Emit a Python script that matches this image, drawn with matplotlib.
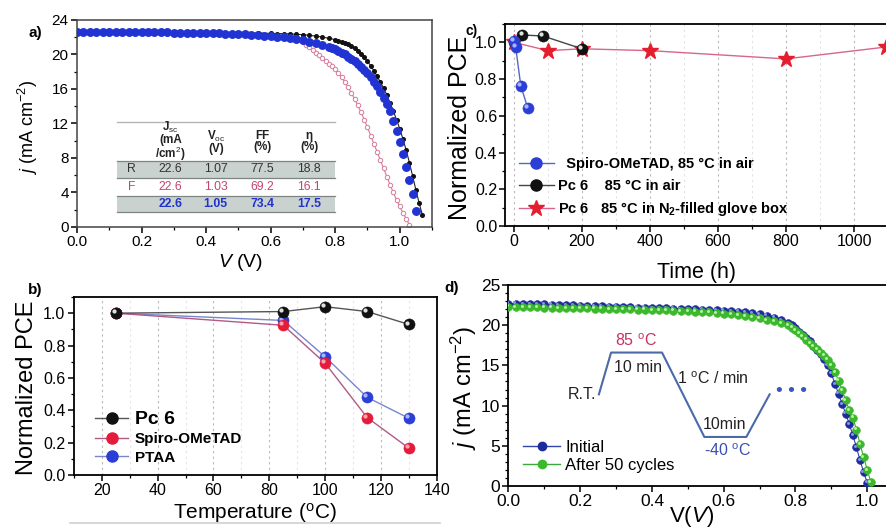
import matplotlib
matplotlib.use('Agg')
import matplotlib.pyplot as plt
from matplotlib.transforms import offset_copy
from matplotlib.ticker import MultipleLocator, FormatStrFormatter
from matplotlib.lines import Line2D
from matplotlib.patches import Rectangle

plt.rcParams['font.family'] = 'Liberation Sans'
plt.rcParams['mathtext.fontset'] = 'custom'
plt.rcParams['mathtext.rm'] = 'Liberation Sans'
plt.rcParams['mathtext.it'] = 'Liberation Sans:italic'
plt.rcParams['mathtext.bf'] = 'Liberation Sans:bold'

# ---- panel a: J-V curves (R, F, average) ----
v_r = [0.00, 0.04, 0.08, 0.12, 0.16, 0.20, 0.24, 0.28, 0.32, 0.36, 0.40, 0.44, 0.48, 0.52, 0.56,
       0.60, 0.62, 0.64, 0.66, 0.68, 0.70, 0.72, 0.74, 0.76, 0.78,
       0.80, 0.81, 0.82, 0.83, 0.84, 0.85, 0.86, 0.87, 0.88, 0.89, 0.90, 0.91, 0.92, 0.93, 0.94,
       0.95, 0.96, 0.97, 0.98, 0.99, 1.00, 1.01, 1.02, 1.03, 1.04, 1.05, 1.06, 1.07]
j_r = [22.65, 22.65, 22.64, 22.63, 22.62, 22.61, 22.60, 22.59, 22.58, 22.56, 22.55, 22.53, 22.52, 22.50, 22.48,
       22.45, 22.43, 22.41, 22.38, 22.34, 22.29, 22.22, 22.13, 22.02, 21.88,
       21.72, 21.62, 21.50, 21.36, 21.20, 21.00, 20.75, 20.45, 20.10, 19.70, 19.20, 18.70, 18.10, 17.45, 16.80,
       16.10, 15.30, 14.40, 13.45, 12.45, 11.40, 10.20, 8.90, 7.45, 5.90, 4.30, 2.80, 1.40]

v_f = [0.00, 0.04, 0.08, 0.12, 0.16, 0.20, 0.24, 0.28, 0.32, 0.36, 0.40, 0.44, 0.48, 0.52, 0.56,
       0.60, 0.62, 0.64, 0.66, 0.68,
       0.70, 0.71, 0.72, 0.73, 0.74, 0.75, 0.76, 0.77, 0.78, 0.79, 0.80, 0.81, 0.82, 0.83, 0.84,
       0.85, 0.86, 0.87, 0.88, 0.89, 0.90, 0.91, 0.92, 0.93, 0.94, 0.95, 0.96, 0.97, 0.98, 0.99,
       1.00, 1.01, 1.02, 1.03]
j_f = [22.65, 22.64, 22.63, 22.62, 22.60, 22.58, 22.56, 22.54, 22.52, 22.49, 22.46, 22.42, 22.38, 22.33, 22.27,
       22.20, 22.10, 21.98, 21.84, 21.68,
       21.40, 21.15, 20.85, 20.55, 20.20, 19.90, 19.60, 19.30, 18.95, 18.65, 18.30, 17.85, 17.35, 16.80, 16.20,
       15.55, 14.85, 14.10, 13.30, 12.45, 11.55, 10.60, 9.65, 8.70, 7.75, 6.80, 5.85, 4.90, 4.00, 3.15,
       2.40, 1.65, 0.95, 0.25]

v_avg = [0.00, 0.02, 0.04, 0.06, 0.08, 0.10, 0.12, 0.14, 0.16, 0.18, 0.20, 0.22, 0.24, 0.26, 0.28,
         0.30, 0.32, 0.34, 0.36, 0.38, 0.40, 0.42, 0.44, 0.46, 0.48, 0.50, 0.52, 0.54, 0.56, 0.58,
         0.60, 0.62, 0.64, 0.66, 0.68, 0.70, 0.72, 0.74, 0.76, 0.78,
         0.79, 0.80, 0.81, 0.82, 0.83, 0.84, 0.85, 0.86, 0.87, 0.88, 0.89, 0.90, 0.91, 0.92, 0.93,
         0.94, 0.95, 0.96, 0.97, 0.98, 0.99, 1.00, 1.01, 1.02, 1.03, 1.04, 1.05]
j_avg = [22.65, 22.65, 22.64, 22.64, 22.63, 22.63, 22.62, 22.62, 22.61, 22.60, 22.60, 22.59, 22.58, 22.57, 22.56,
         22.55, 22.54, 22.53, 22.52, 22.50, 22.48, 22.46, 22.44, 22.42, 22.39, 22.36, 22.33, 22.29, 22.25, 22.20,
         22.14, 22.07, 21.99, 21.90, 21.79, 21.66, 21.50, 21.32, 21.12, 20.90,
         20.75, 20.60, 20.40, 20.20, 20.00, 19.75, 19.50, 19.20, 18.90, 18.55, 18.20, 17.80, 17.35, 16.85, 16.30,
         15.70, 15.00, 14.25, 13.40, 12.30, 11.10, 9.80, 8.45, 7.00, 5.50, 3.80, 1.90]

tbl_rows = ['R', 'F', '']
tbl_jsc = ['22.6', '22.6', '22.6']
tbl_voc = ['1.07', '1.03', '1.05']
tbl_ff = ['77.5', '69.2', '73.4']
tbl_eta = ['18.8', '16.1', '17.5']

# ---- panel b: normalized PCE vs temperature ----
temp = [25, 85, 100, 115, 130]
pce_pc6_t = [1.00, 1.01, 1.04, 1.01, 0.93]
pce_spiro_t = [1.00, 0.925, 0.69, 0.355, 0.165]
pce_ptaa_t = [1.00, 0.955, 0.73, 0.48, 0.35]

# ---- panel c: normalized PCE vs time ----
t_spiro = [0, 5, 20, 40]
pce_spiro_h = [1.01, 0.975, 0.765, 0.645]
t_pc6_air = [0, 25, 85, 200]
pce_pc6_air = [1.00, 1.04, 1.035, 0.965]
t_pc6_n2 = [0, 100, 200, 400, 800, 1095]
pce_pc6_n2 = [1.00, 0.955, 0.965, 0.955, 0.91, 0.975]

# ---- panel d: J-V before / after thermal cycling ----
v_init = [0.00, 0.02, 0.04, 0.06, 0.08, 0.10, 0.12, 0.14, 0.16, 0.18, 0.20, 0.22, 0.24, 0.26, 0.28,
          0.30, 0.32, 0.34, 0.36, 0.38, 0.40, 0.42, 0.44, 0.46, 0.48, 0.50, 0.52, 0.54, 0.56, 0.58,
          0.60, 0.62, 0.64, 0.66, 0.68, 0.70, 0.72, 0.74, 0.76, 0.78,
          0.79, 0.80, 0.81, 0.82, 0.83, 0.84, 0.85, 0.86, 0.87, 0.88, 0.89, 0.90, 0.91, 0.92, 0.93,
          0.94, 0.95, 0.96, 0.97, 0.98, 0.99, 1.00]
j_init = [22.70, 22.68, 22.65, 22.63, 22.60, 22.58, 22.55, 22.52, 22.50, 22.47, 22.44, 22.41, 22.38, 22.35, 22.32,
          22.29, 22.26, 22.23, 22.20, 22.17, 22.14, 22.11, 22.08, 22.05, 22.02, 21.99, 21.96, 21.93, 21.89, 21.85,
          21.80, 21.74, 21.67, 21.59, 21.50, 21.38, 21.20, 20.95, 20.65, 20.25,
          20.00, 19.60, 19.20, 18.80, 18.40, 18.00, 17.40, 16.90, 16.40, 15.80, 15.00, 14.00, 12.70, 11.50, 10.20,
          9.00, 7.70, 6.30, 4.80, 3.20, 1.70, 0.40]

v_cyc = [0.00, 0.02, 0.04, 0.06, 0.08, 0.10, 0.12, 0.14, 0.16, 0.18, 0.20, 0.22, 0.24, 0.26, 0.28,
         0.30, 0.32, 0.34, 0.36, 0.38, 0.40, 0.42, 0.44, 0.46, 0.48, 0.50, 0.52, 0.54, 0.56, 0.58,
         0.60, 0.62, 0.64, 0.66, 0.68, 0.70, 0.72, 0.74, 0.76, 0.78,
         0.79, 0.80, 0.81, 0.82, 0.83, 0.84, 0.85, 0.86, 0.87, 0.88, 0.89, 0.90, 0.91, 0.92, 0.93,
         0.94, 0.95, 0.96, 0.97, 0.98, 0.99, 1.00, 1.01]
j_cyc = [22.30, 22.28, 22.26, 22.24, 22.22, 22.20, 22.18, 22.16, 22.14, 22.12, 22.10, 22.08, 22.06, 22.04, 22.02,
         22.00, 21.98, 21.96, 21.94, 21.92, 21.90, 21.87, 21.84, 21.81, 21.78, 21.74, 21.70, 21.65, 21.60, 21.52,
         21.44, 21.35, 21.25, 21.13, 21.00, 20.85, 20.67, 20.47, 20.25, 19.99,
         19.70, 19.35, 19.00, 18.60, 18.20, 17.80, 17.40, 17.00, 16.60, 16.20, 15.70, 15.00, 14.20, 13.10, 11.90,
         10.70, 9.40, 8.50, 7.00, 5.20, 3.60, 2.00, 0.50]

# temperature-cycle sketch drawn inside panel d (V, j units)
cycle_v = [0.252, 0.286, 0.428, 0.546, 0.663, 0.728]
cycle_j = [11.4, 16.6, 16.6, 6.1, 6.1, 11.4]


def spheres(ax, x, y, col, hi, ms, z=3):
    ax.plot(x, y, 'o', ms=ms, mfc=col, mec=col, mew=0.4, ls='none', zorder=z)
    tr = offset_copy(ax.transData, fig=ax.figure, x=-0.17 * ms, y=0.17 * ms, units='points')
    ax.plot(x, y, 'o', ms=ms * 0.38, mfc=hi, mec='none', ls='none', zorder=z + 0.01, transform=tr)


def style(ax, fs, width=1.2):
    for s in ax.spines.values():
        s.set_linewidth(width)
    ax.tick_params(which='major', direction='out', length=4, width=1.1, labelsize=fs, pad=2)
    ax.tick_params(which='minor', direction='out', length=2.5, width=0.9)


fig = plt.figure(figsize=(8.86, 5.29), dpi=100)

# ================= panel a =================
ax_a = fig.add_axes([0.0869, 0.5709, 0.4007, 0.3913])
ax_a.plot(v_f, j_f, '-o', color='#d77a9e', lw=0.8, ms=3.2, mfc='white', mec='#d77a9e', mew=0.7, zorder=2)
ax_a.plot(v_r, j_r, '-o', color='#222222', lw=0.8, ms=2.6, mfc='#111111', mec='#111111', zorder=3)
ax_a.plot(v_avg, j_avg, 'o', color='#2233d4', ms=5.4, mec='#2233d4', zorder=4)
ax_a.set_xlim(0, 1.1)
ax_a.set_ylim(0, 24)
ax_a.xaxis.set_major_locator(MultipleLocator(0.2))
ax_a.xaxis.set_minor_locator(MultipleLocator(0.1))
ax_a.yaxis.set_major_locator(MultipleLocator(4))
ax_a.yaxis.set_minor_locator(MultipleLocator(2))
ax_a.xaxis.set_major_formatter(FormatStrFormatter('%.1f'))
for s in ax_a.spines.values():
    s.set_color('#444444')
style(ax_a, 11, 1.1)

# inset table
x0, x1 = 0.124, 0.80
col_x = [0.17, 0.29, 0.43, 0.575, 0.72]
row_y = [6.7, 4.65, 2.7]
row_col = ['#333333', '#c0466e', '#2233cc']
ax_a.plot([x0, x1], [12.2, 12.2], color='#b5b5b5', lw=1.0, zorder=5)
for yb, h in [(5.7, 2.0), (1.75, 1.9)]:
    ax_a.add_patch(Rectangle((x0, yb), x1 - x0, h, facecolor='#c9d2cf', edgecolor='none', zorder=5))
for yl in [7.7, 5.7, 3.65, 1.75]:
    ax_a.plot([x0, x1], [yl, yl], color='#7d8582', lw=0.9, zorder=5)
hdrs = ['J$_{\\mathrm{sc}}$\n(mA\n/cm$^2$)', 'V$_{\\mathrm{oc}}$\n(V)', 'FF\n(%)', '\u03b7\n(%)']
for cx, h in zip(col_x[1:], hdrs):
    ax_a.text(cx, 9.9, h, ha='center', va='center', fontsize=8.4, fontweight='bold', color='#222222',
              linespacing=0.9, zorder=6)
for i in range(3):
    vals = [tbl_rows[i], tbl_jsc[i], tbl_voc[i], tbl_ff[i], tbl_eta[i]]
    for cx, val in zip(col_x, vals):
        ax_a.text(cx, row_y[i], val, ha='center', va='center', fontsize=8.8, color=row_col[i],
                  fontweight='bold' if i == 2 else 'normal', zorder=6)

fig.text(0.0316, 0.758, '$j$ (mA cm$^{-2}$)', rotation=90, ha='center', va='center', fontsize=13)
fig.text(0.272, 0.503, '$V$ (V)', ha='center', va='center', fontsize=14)
fig.text(0.0395, 0.9376, 'a)', ha='center', va='center', fontsize=11, fontweight='bold')

# ================= panel c =================
ax_c = fig.add_axes([0.5705, 0.5728, 0.4318, 0.3818])
for t in [0, 200, 400, 600, 800, 1000]:
    ax_c.axvline(t, color='#b8b8b8', lw=0.8, ls=(0, (2, 3)), zorder=0)
for t in [100, 300, 500, 700, 900]:
    ax_c.axvline(t, color='#e2e2e2', lw=0.8, ls=(0, (2, 3)), zorder=0)
ax_c.plot(t_pc6_n2, pce_pc6_n2, '-', color='#d8668a', lw=1.0, zorder=2)
ax_c.plot(t_pc6_n2, pce_pc6_n2, '*', color='#e41e2e', ms=12, mec='#e41e2e', ls='none', zorder=3)
ax_c.plot(t_pc6_air, pce_pc6_air, '-', color='#444444', lw=1.0, zorder=4)
spheres(ax_c, t_pc6_air, pce_pc6_air, '#111111', '#e0e0e0', 8, z=5)
ax_c.plot(t_spiro, pce_spiro_h, '-', color='#5566c8', lw=1.0, zorder=6)
spheres(ax_c, t_spiro, pce_spiro_h, '#2b3fd6', '#a8b4ff', 8, z=7)
ax_c.set_xlim(-25, 1100)
ax_c.set_ylim(0, 1.1)
ax_c.xaxis.set_major_locator(MultipleLocator(200))
ax_c.xaxis.set_minor_locator(MultipleLocator(100))
ax_c.yaxis.set_major_locator(MultipleLocator(0.2))
ax_c.yaxis.set_minor_locator(MultipleLocator(0.1))
ax_c.yaxis.set_major_formatter(FormatStrFormatter('%.1f'))
ax_c.spines['right'].set_visible(False)
style(ax_c, 11.5, 1.3)
h_c = [Line2D([], [], color='#5566c8', lw=1.0, marker='o', ms=8, mfc='#2b3fd6', mec='#2b3fd6'),
       Line2D([], [], color='#444444', lw=1.0, marker='o', ms=8, mfc='#111111', mec='#111111'),
       Line2D([], [], color='#d8668a', lw=1.0, marker='*', ms=12, mfc='#e41e2e', mec='#e41e2e')]
l_c = ['  Spiro-OMeTAD, 85 \u00b0C in air', 'Pc 6    85 \u00b0C in air',
       'Pc 6   85 \u00b0C in N$_\\mathbf{2}$-filled glove box']
ax_c.legend(h_c, l_c, loc='lower left', bbox_to_anchor=(0.0, -0.025), frameon=False, handlelength=2.4,
            handletextpad=0.3, labelspacing=0.5, prop={'weight': 'bold', 'size': 10.5})
fig.text(0.519, 0.758, 'Normalized PCE', rotation=90, ha='center', va='center', fontsize=18)
fig.text(0.786, 0.484, 'Time (h)', ha='center', va='center', fontsize=15.5)
fig.text(0.532, 0.941, 'c)', ha='center', va='center', fontsize=10, fontweight='bold')

# ================= panel b =================
ax_b = fig.add_axes([0.0833, 0.1021, 0.4099, 0.3365])
for t in [20, 40, 60, 80, 100, 120]:
    ax_b.axvline(t, color='#b8b8b8', lw=0.8, ls=(0, (2, 3)), zorder=0)
for t in [30, 50, 70, 90, 110, 130]:
    ax_b.axvline(t, color='#e4e4e4', lw=0.8, ls=(0, (2, 3)), zorder=0)
ax_b.plot(temp, pce_ptaa_t, '-', color='#7a86cc', lw=1.0, zorder=2)
spheres(ax_b, temp, pce_ptaa_t, '#2b3fd6', '#a8b4ff', 8, z=3)
ax_b.plot(temp, pce_spiro_t, '-', color='#b05a85', lw=1.0, zorder=4)
spheres(ax_b, temp, pce_spiro_t, '#e21c3a', '#ffa0ad', 8, z=5)
ax_b.plot(temp, pce_pc6_t, '-', color='#555555', lw=1.0, zorder=6)
spheres(ax_b, temp, pce_pc6_t, '#111111', '#e0e0e0', 8, z=7)
ax_b.set_xlim(10, 140)
ax_b.set_ylim(0, 1.1)
ax_b.xaxis.set_major_locator(MultipleLocator(20))
ax_b.xaxis.set_minor_locator(MultipleLocator(10))
ax_b.yaxis.set_major_locator(MultipleLocator(0.2))
ax_b.yaxis.set_minor_locator(MultipleLocator(0.1))
ax_b.yaxis.set_major_formatter(FormatStrFormatter('%.1f'))
style(ax_b, 11.5, 1.3)
h_b = [Line2D([], [], color='#555555', lw=1.0, marker='o', ms=8, mfc='#111111', mec='#111111'),
       Line2D([], [], color='#b05a85', lw=1.0, marker='o', ms=8, mfc='#e21c3a', mec='#e21c3a'),
       Line2D([], [], color='#7a86cc', lw=1.0, marker='o', ms=8, mfc='#2b3fd6', mec='#2b3fd6')]
leg_b = ax_b.legend(h_b, ['Pc 6', 'Spiro-OMeTAD', 'PTAA'], loc='lower left', bbox_to_anchor=(0.02, -0.02),
                    frameon=False, handlelength=2.2, handletextpad=0.4, labelspacing=0.3,
                    prop={'weight': 'bold', 'size': 11})
leg_b.get_texts()[0].set_fontsize(14)
fig.text(0.0305, 0.2665, 'Normalized PCE', rotation=90, ha='center', va='center', fontsize=17)
fig.text(0.288, 0.030, 'Temperature ($^{\\mathrm{o}}$C)', ha='center', va='center', fontsize=15)
fig.text(0.0395, 0.452, 'b)', ha='center', va='center', fontsize=11, fontweight='bold')
fig.add_artist(Line2D([0.079, 0.497], [0.011, 0.011], color='#cfcfcf', lw=1.2))

# ================= panel d =================
ax_d = fig.add_axes([0.5739, 0.0813, 0.4292, 0.3799])
ax_d.plot(v_init, j_init, '-', color='#3344aa', lw=0.8, zorder=2)
spheres(ax_d, v_init, j_init, '#1d2b9c', '#8a98ea', 5.6, z=3)
ax_d.plot(v_cyc, j_cyc, '-', color='#3aa83a', lw=0.8, zorder=4)
spheres(ax_d, v_cyc, j_cyc, '#3cb82c', '#b4f5a0', 5.6, z=5)
ax_d.plot(cycle_v, cycle_j, '-', color='#4b6aa6', lw=1.5, zorder=6)
nfont = {'size': 11.5}
ax_d.text(0.245, 11.4, 'R.T.', ha='right', va='center', color='#222222', **nfont)
ax_d.text(0.356, 18.1, '85 $^{\\mathrm{o}}$C', ha='center', va='center', color='#c8325e', **nfont)
ax_d.text(0.36, 14.8, '10 min', ha='center', va='center', color='#222222', **nfont)
ax_d.text(0.57, 13.3, '1 $^{\\mathrm{o}}$C / min', ha='center', va='center', color='#222222', **nfont)
ax_d.text(0.602, 7.7, '10min', ha='center', va='center', color='#222222', **nfont)
ax_d.text(0.61, 4.4, '-40 $^{\\mathrm{o}}$C', ha='center', va='center', color='#3a4fb0', **nfont)
ax_d.text(0.79, 11.8, '\u2022 \u2022 \u2022', ha='center', va='center', color='#3557c0', fontsize=14)
ax_d.set_xlim(0, 1.06)
ax_d.set_ylim(0, 25)
ax_d.xaxis.set_major_locator(MultipleLocator(0.2))
ax_d.xaxis.set_minor_locator(MultipleLocator(0.1))
ax_d.yaxis.set_major_locator(MultipleLocator(5))
ax_d.yaxis.set_minor_locator(MultipleLocator(1))
ax_d.xaxis.set_major_formatter(FormatStrFormatter('%.1f'))
ax_d.spines['right'].set_visible(False)
style(ax_d, 12.5, 1.3)
h_d = [Line2D([], [], color='#3344aa', lw=1.0, marker='o', ms=6, mfc='#1d2b9c', mec='#1d2b9c'),
       Line2D([], [], color='#3aa83a', lw=1.0, marker='o', ms=6, mfc='#3cb82c', mec='#3cb82c')]
ax_d.legend(h_d, ['Initial', 'After 50 cycles'], loc='lower left', bbox_to_anchor=(0.0, -0.01),
            frameon=False, handlelength=2.2, handletextpad=0.3, labelspacing=0.2,
            prop={'size': 12})
fig.text(0.524, 0.2665, '$j$ (mA cm$^{-2}$)', rotation=90, ha='center', va='center', fontsize=17)
fig.text(0.781, 0.024, 'V($V$)', ha='center', va='center', fontsize=16)
fig.text(0.510, 0.4556, 'd)', ha='center', va='center', fontsize=11, fontweight='bold')

fig.savefig('out.png', dpi=100)
